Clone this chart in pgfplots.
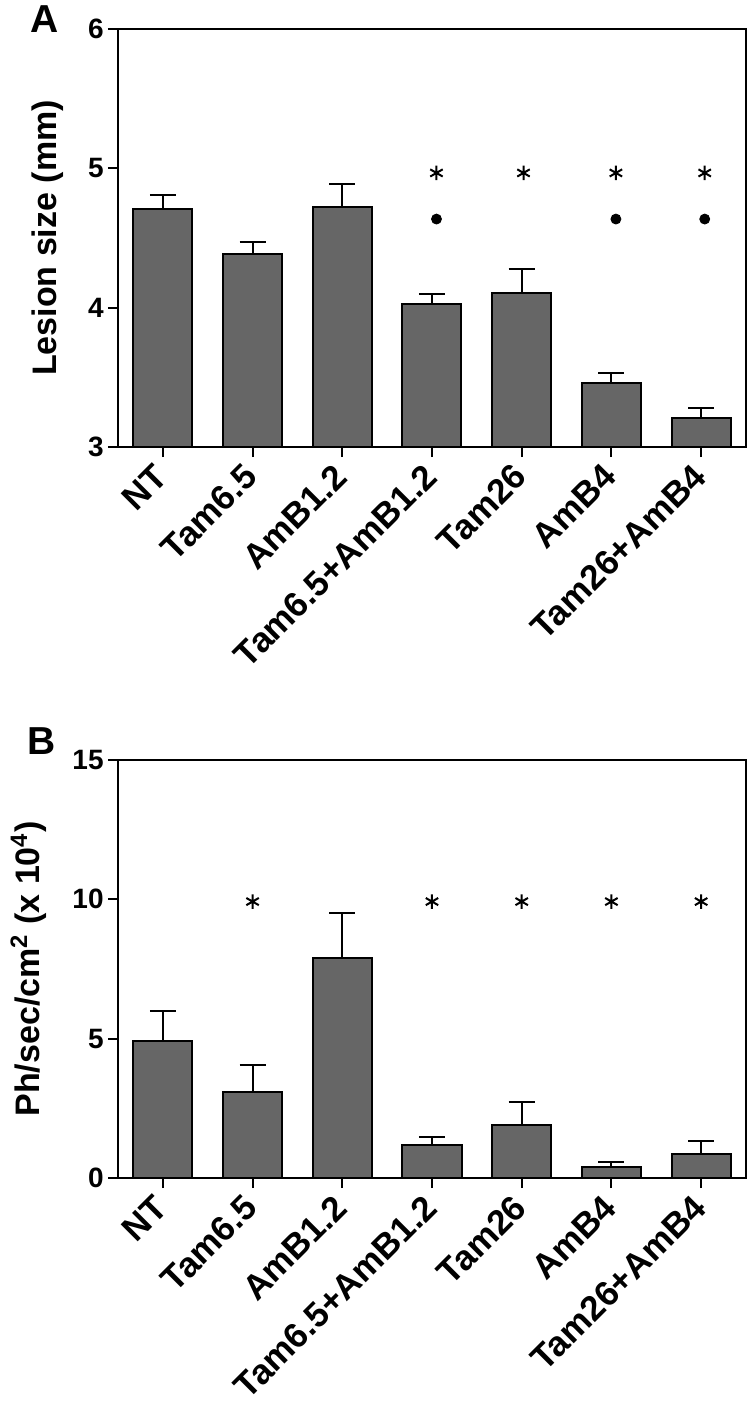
\documentclass[border=0pt]{standalone}
\usepackage{pgfplots}
\pgfplotsset{compat=1.18}
\usepackage{fontspec}
\setmainfont{Liberation Sans}
\definecolor{barfill}{HTML}{666666}
\pgfplotsset{
  panel/.style={
    scale only axis, width=314pt, height=209pt,
    xmin=-0.5, xmax=6.5,
    xtick={0,1,2,3,4,5,6},
    xticklabels={NT,Tam6.5,AmB1.2,Tam6.5+AmB1.2,Tam26,AmB4,Tam26+AmB4},
    tick align=outside, major tick length=5pt,
    xtick pos=bottom, ytick pos=left,
    axis line style={line width=1pt},
    every tick/.style={black, line width=1pt},
    xticklabel shift=6pt,
    xticklabel style={rotate=45, anchor=east, font=\fontsize{17.5}{17.5}\selectfont\bfseries, inner sep=1pt},
    yticklabel style={font=\fontsize{14}{14}\selectfont\bfseries, inner sep=2pt},
    /pgf/number format/assume math mode=true,
    ylabel style={font=\fontsize{17}{17}\selectfont\bfseries, inner sep=0pt, anchor=south},
  },
  bars/.style={ybar, bar width=29.5pt, fill=barfill, draw=black, line width=1pt,
    error bars/.cd, y dir=plus, y explicit,
    error bar style={line width=1pt, black},
    error mark options={rotate=90, line width=1pt, mark size=6.5pt, black}},
  stars/.style={only marks, mark=asterisk, mark size=3.6pt, mark options={line width=1pt, black}},
  dots/.style={only marks, mark=*, mark size=2.5pt, mark options={fill=black, draw=black}},
}
\begin{document}
\begin{tikzpicture}
\useasboundingbox (0,0) rectangle (375pt,-703.5pt);
\begin{axis}[panel, at={(59pt,-223.5pt)}, anchor=south west,
  ymin=3, ymax=6, ytick={3,4,5,6},
  ylabel={Lesion size (mm)},
  ylabel style={at={(axis description cs:-0.086,0.5)}}]
\addplot[bars] coordinates {
 (0,4.708) +- (0,0.100)
 (1,4.387) +- (0,0.083)
 (2,4.720) +- (0,0.170)
 (3,4.026) +- (0,0.069)
 (4,4.105) +- (0,0.175)
 (5,3.459) +- (0,0.071)
 (6,3.205) +- (0,0.075)
};
\addplot[stars] coordinates {(3.05,4.967) (4.02,4.967) (5.05,4.967) (6.04,4.967)};
\addplot[dots] coordinates {(3.05,4.636) (5.05,4.636) (6.04,4.636)};
\end{axis}
\begin{axis}[panel, at={(59pt,-589pt)}, anchor=south west,
  ymin=0, ymax=15, ytick={0,5,10,15},
  ylabel={Ph/sec/cm\textsuperscript{2} (x 10\textsuperscript{4})},
  ylabel style={at={(axis description cs:-0.113,0.5)}}]
\addplot[bars] coordinates {
 (0,4.92) +- (0,1.08)
 (1,3.10) +- (0,0.95)
 (2,7.89) +- (0,1.61)
 (3,1.20) +- (0,0.27)
 (4,1.90) +- (0,0.82)
 (5,0.39) +- (0,0.19)
 (6,0.87) +- (0,0.47)
};
\addplot[stars] coordinates {(1,9.92) (3,9.92) (4,9.92) (5,9.92) (6,9.92)};
\end{axis}
\node[font=\fontsize{19.5}{19.5}\selectfont\bfseries, inner sep=0pt] at (22.5pt,-9.5pt) {A};
\node[font=\fontsize{19.5}{19.5}\selectfont\bfseries, inner sep=0pt] at (21pt,-370.5pt) {B};
\end{tikzpicture}
\end{document}
